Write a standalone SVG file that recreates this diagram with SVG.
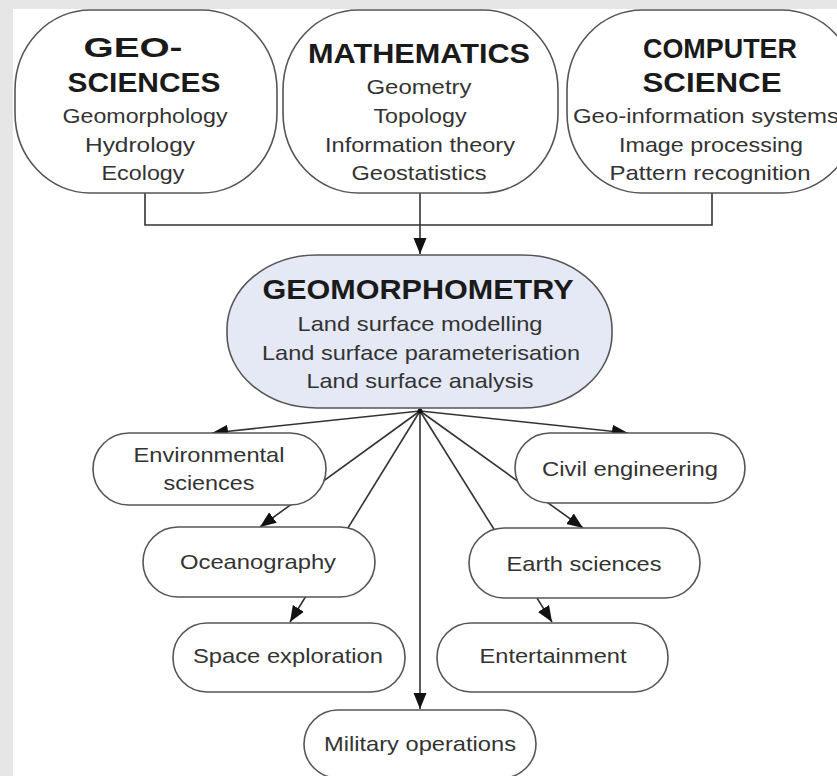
<svg xmlns="http://www.w3.org/2000/svg" width="837" height="776" viewBox="0 0 837 776">
<style>
.box{fill:#fff;stroke:#555;stroke-width:1.6}
.hub{fill:#e4e9f5;stroke:#555;stroke-width:1.6}
.ln{fill:none;stroke:#333;stroke-width:1.6}
.h{font-family:"Liberation Sans",Arial,sans-serif;font-weight:bold;font-size:28px;fill:#1a1a1a;text-anchor:middle}
.t{font-family:"Liberation Sans",Arial,sans-serif;font-size:21px;fill:#333;text-anchor:middle}
</style>
<defs>
<marker id="ah" markerUnits="userSpaceOnUse" markerWidth="18" markerHeight="14" refX="16" refY="7" orient="auto">
<path d="M0,0.5 L16,7 L0,13.5 Z" fill="#111"/>
</marker>
</defs>
<rect x="0" y="0" width="837" height="776" fill="#e6e6e6"/>
<rect x="13" y="9" width="824" height="767" fill="#fff"/>
<g id="connectors">
<polyline class="ln" points="145,193 145,225 712,225 712,193"/>
<line class="ln" x1="420" y1="193" x2="420" y2="254" marker-end="url(#ah)"/>
<line class="ln" x1="420" y1="411" x2="212" y2="433" marker-end="url(#ah)"/>
<line class="ln" x1="420" y1="411" x2="260" y2="527" marker-end="url(#ah)"/>
<line class="ln" x1="420" y1="411" x2="290" y2="622" marker-end="url(#ah)"/>
<line class="ln" x1="420" y1="411" x2="420" y2="709" marker-end="url(#ah)"/>
<line class="ln" x1="420" y1="411" x2="552" y2="622" marker-end="url(#ah)"/>
<line class="ln" x1="420" y1="411" x2="583" y2="528" marker-end="url(#ah)"/>
<line class="ln" x1="420" y1="411" x2="628" y2="433" marker-end="url(#ah)"/>
<circle cx="420" cy="411" r="2.5" fill="#111"/>
</g>
<g id="geosciences">
<rect class="box" x="15" y="10" width="262" height="183" rx="75" ry="80"/>
<text class="h" x="133" y="57" textLength="99" lengthAdjust="spacingAndGlyphs">GEO-</text>
<text class="h" x="144" y="92" textLength="153" lengthAdjust="spacingAndGlyphs">SCIENCES</text>
<text class="t" x="145" y="123" textLength="165" lengthAdjust="spacingAndGlyphs">Geomorphology</text>
<text class="t" x="140" y="152" textLength="110" lengthAdjust="spacingAndGlyphs">Hydrology</text>
<text class="t" x="143" y="180" textLength="83" lengthAdjust="spacingAndGlyphs">Ecology</text>
</g>
<g id="mathematics">
<rect class="box" x="283" y="10" width="275" height="183" rx="75" ry="80"/>
<text class="h" x="419" y="63" textLength="222" lengthAdjust="spacingAndGlyphs">MATHEMATICS</text>
<text class="t" x="419" y="94" textLength="105" lengthAdjust="spacingAndGlyphs">Geometry</text>
<text class="t" x="420" y="123" textLength="93" lengthAdjust="spacingAndGlyphs">Topology</text>
<text class="t" x="420" y="152" textLength="190" lengthAdjust="spacingAndGlyphs">Information theory</text>
<text class="t" x="419" y="180" textLength="135" lengthAdjust="spacingAndGlyphs">Geostatistics</text>
</g>
<g id="computer-science">
<rect class="box" x="567" y="10" width="290" height="183" rx="75" ry="80"/>
<text class="h" x="720" y="58" textLength="154" lengthAdjust="spacingAndGlyphs">COMPUTER</text>
<text class="h" x="712" y="92" textLength="139" lengthAdjust="spacingAndGlyphs">SCIENCE</text>
<text class="t" x="573" y="123" style="text-anchor:start" textLength="266" lengthAdjust="spacingAndGlyphs">Geo-information systems</text>
<text class="t" x="711" y="152" textLength="184" lengthAdjust="spacingAndGlyphs">Image processing</text>
<text class="t" x="710" y="180" textLength="201" lengthAdjust="spacingAndGlyphs">Pattern recognition</text>
</g>
<g id="geomorphometry">
<rect class="hub" x="227" y="255" width="385" height="153" rx="90" ry="74"/>
<text class="h" x="418" y="299" textLength="311" lengthAdjust="spacingAndGlyphs">GEOMORPHOMETRY</text>
<text class="t" x="420" y="331" textLength="245" lengthAdjust="spacingAndGlyphs">Land surface modelling</text>
<text class="t" x="421" y="360" textLength="318" lengthAdjust="spacingAndGlyphs">Land surface parameterisation</text>
<text class="t" x="420" y="388" textLength="227" lengthAdjust="spacingAndGlyphs">Land surface analysis</text>
</g>
<g id="environmental-sciences">
<rect class="box" x="93" y="433" width="233" height="72" rx="36" ry="36"/>
<text class="t" x="209" y="462" textLength="151" lengthAdjust="spacingAndGlyphs">Environmental</text>
<text class="t" x="209" y="490" textLength="91" lengthAdjust="spacingAndGlyphs">sciences</text>
</g>
<g id="civil-engineering">
<rect class="box" x="515" y="433" width="230" height="70" rx="35" ry="35"/>
<text class="t" x="630" y="476" textLength="176" lengthAdjust="spacingAndGlyphs">Civil engineering</text>
</g>
<g id="oceanography">
<rect class="box" x="143" y="527" width="232" height="70" rx="35" ry="35"/>
<text class="t" x="258" y="569" textLength="156" lengthAdjust="spacingAndGlyphs">Oceanography</text>
</g>
<g id="earth-sciences">
<rect class="box" x="469" y="528" width="231" height="70" rx="35" ry="35"/>
<text class="t" x="584" y="571" textLength="155" lengthAdjust="spacingAndGlyphs">Earth sciences</text>
</g>
<g id="space-exploration">
<rect class="box" x="173" y="623" width="232" height="69" rx="34" ry="34"/>
<text class="t" x="288" y="663" textLength="190" lengthAdjust="spacingAndGlyphs">Space exploration</text>
</g>
<g id="entertainment">
<rect class="box" x="437" y="623" width="231" height="69" rx="34" ry="34"/>
<text class="t" x="553" y="663" textLength="147" lengthAdjust="spacingAndGlyphs">Entertainment</text>
</g>
<g id="military-operations">
<rect class="box" x="304" y="710" width="232" height="68" rx="34" ry="34"/>
<text class="t" x="420" y="751" textLength="192" lengthAdjust="spacingAndGlyphs">Military operations</text>
</g>
</svg>
